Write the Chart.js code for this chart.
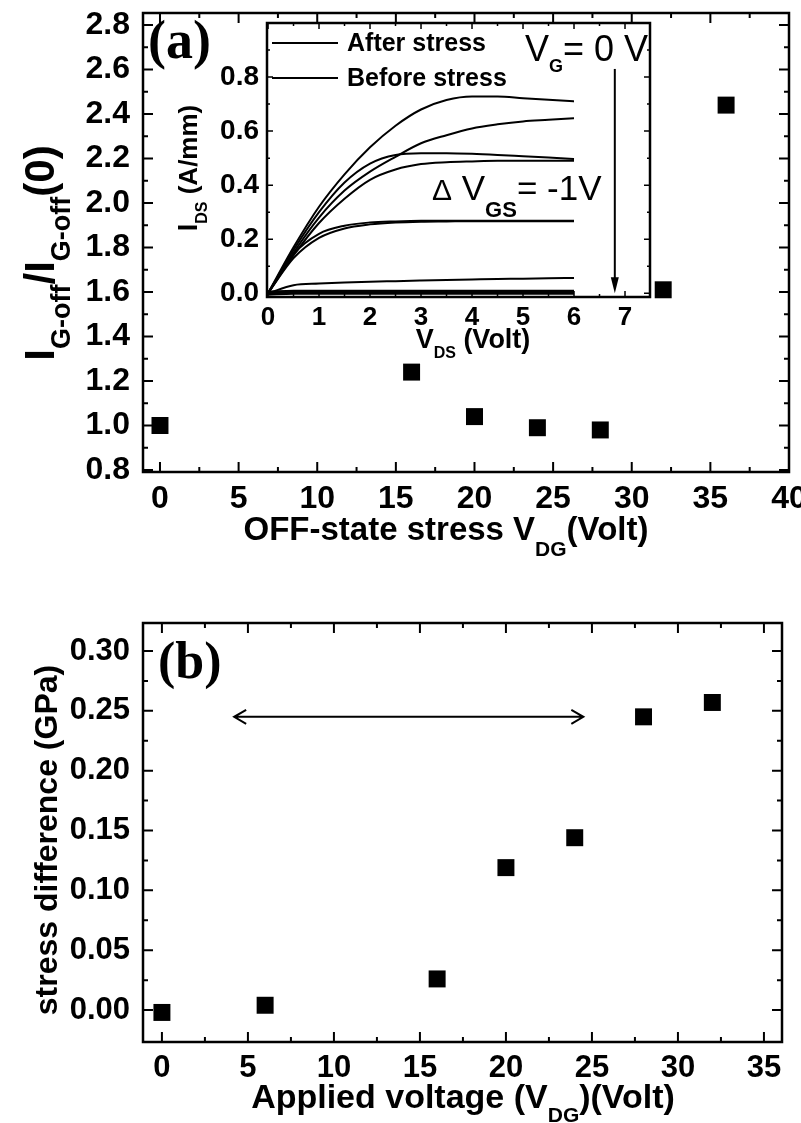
<!DOCTYPE html>
<html>
<head>
<meta charset="utf-8">
<script src="https://cdn.jsdelivr.net/npm/chart.js@4.4.0/dist/chart.umd.min.js"></script>
<style>
  html, body { margin: 0; padding: 0; background: #fff; }
  #page { position: relative; width: 801px; height: 1123px; overflow: hidden; }
  canvas { position: absolute; }
</style>
</head>
<body>
<div id="page">
  <canvas id="chartA" width="801" height="580" style="left:0;top:0"></canvas>
  <canvas id="inset" width="510" height="350" style="left:160px;top:10px"></canvas>
  <canvas id="chartB" width="801" height="533" style="left:0;top:590px"></canvas>
</div>
<script>
// (a) gate leakage ratio vs OFF-state stress
const stressVdg = [0, 16, 20, 24, 28, 32, 36];
const gateRatio = [1.0, 1.24, 1.04, 0.99, 0.98, 1.61, 2.44];
const ratioTicks = [0.8, 1.0, 1.2, 1.4, 1.6, 1.8, 2.0, 2.2, 2.4, 2.6, 2.8];
const vdgTicksA = [0, 5, 10, 15, 20, 25, 30, 35, 40];

// inset: output characteristics
const vds = [0, 0.5, 1, 1.5, 2, 2.5, 3, 3.5, 4, 4.5, 5, 5.5, 6];
const idsCurves = [
  [0, 0.17, 0.32, 0.44, 0.54, 0.62, 0.68, 0.715, 0.728, 0.728, 0.722, 0.716, 0.71],
  [0, 0.15, 0.28, 0.38, 0.45, 0.505, 0.555, 0.585, 0.61, 0.625, 0.636, 0.642, 0.648],
  [0, 0.16, 0.30, 0.41, 0.48, 0.512, 0.518, 0.518, 0.516, 0.512, 0.507, 0.502, 0.497],
  [0, 0.14, 0.26, 0.35, 0.42, 0.458, 0.478, 0.485, 0.488, 0.49, 0.49, 0.49, 0.49],
  [0, 0.145, 0.22, 0.25, 0.262, 0.266, 0.268, 0.268, 0.268, 0.268, 0.268, 0.268, 0.268],
  [0, 0.13, 0.205, 0.24, 0.255, 0.262, 0.265, 0.266, 0.267, 0.267, 0.267, 0.267, 0.267],
  [0, 0.03, 0.036, 0.04, 0.043, 0.045, 0.047, 0.049, 0.051, 0.053, 0.054, 0.056, 0.057],
  [0, 0.004, 0.004, 0.004, 0.004, 0.004, 0.004, 0.004, 0.004, 0.004, 0.004, 0.004, 0.004]
];
const idsTicks = [0, 0.2, 0.4, 0.6, 0.8];
const vdsTicks = [0, 1, 2, 3, 4, 5, 6, 7];
const insetLegend = ['After stress', 'Before stress'];

// (b) stress difference vs applied voltage
const appliedVdg = [0, 6, 16, 20, 24, 28, 32];
const stressDiff = [-0.002, 0.004, 0.026, 0.119, 0.144, 0.245, 0.257];
const gpaTicks = [0, 0.05, 0.10, 0.15, 0.20, 0.25, 0.30];
const vdgTicksB = [0, 5, 10, 15, 20, 25, 30, 35];
const arrowSpan = [4.2, 24.5];
const arrowLevel = 0.245;

const FAMILY = '"Liberation Sans", Arial, sans-serif';
Chart.defaults.color = '#000';
Chart.defaults.font.family = FAMILY;
Chart.defaults.animation = false;

const pts = (xs, ys) => xs.map((x, i) => ({ x, y: ys[i] }));

function richText(ctx, parts, x, y, rotate, align) {
  ctx.save();
  ctx.translate(x, y);
  if (rotate) ctx.rotate(-Math.PI / 2);
  ctx.textBaseline = 'alphabetic';
  ctx.textAlign = 'left';
  ctx.fillStyle = '#000';
  const font = (p) => `${p[2] || 'bold'} ${p[1]}px ${FAMILY}`;
  let total = 0;
  parts.forEach((p) => { ctx.font = font(p); total += ctx.measureText(p[0]).width; });
  let u = align === 'left' ? 0 : -total / 2;
  parts.forEach((p) => {
    ctx.font = font(p);
    ctx.fillText(p[0], u, p[3] || 0);
    u += ctx.measureText(p[0]).width;
  });
  ctx.restore();
}

// frame with inward major/minor ticks on all four sides
const frame = {
  id: 'frame',
  afterDatasetsDraw(chart, args, opts) {
    const { ctx, chartArea: a, scales: { x, y } } = chart;
    ctx.save();
    ctx.strokeStyle = '#000';
    ctx.lineWidth = opts.width;
    ctx.strokeRect(a.left, a.top, a.right - a.left, a.bottom - a.top);
    ctx.lineWidth = opts.tickWidth;
    const withMinor = (vals) => {
      const out = vals.map((v) => [v, opts.major]);
      for (let i = 0; i < vals.length - 1; i++) out.push([(vals[i] + vals[i + 1]) / 2, opts.minor]);
      return out;
    };
    ctx.beginPath();
    withMinor(opts.xTicks).forEach(([v, len]) => {
      const px = x.getPixelForValue(v);
      if (px < a.left || px > a.right) return;
      ctx.moveTo(px, a.bottom); ctx.lineTo(px, a.bottom - len);
      ctx.moveTo(px, a.top); ctx.lineTo(px, a.top + len);
    });
    withMinor(opts.yTicks).forEach(([v, len]) => {
      const py = y.getPixelForValue(v);
      if (py < a.top || py > a.bottom) return;
      ctx.moveTo(a.left, py); ctx.lineTo(a.left + len, py);
      ctx.moveTo(a.right, py); ctx.lineTo(a.right - len, py);
    });
    ctx.stroke();
    ctx.restore();
  }
};

function axis(min, max, ticks, fmt, size, pad, fix) {
  return {
    type: 'linear', min, max,
    grid: { display: false }, border: { display: false },
    afterBuildTicks: (s) => { s.ticks = ticks.map((value) => ({ value })); },
    afterFit: (s) => {
      Object.assign(s, fix);
      s.paddingLeft = s.paddingRight = s.paddingTop = s.paddingBottom = 0;
    },
    ticks: { callback: fmt, padding: pad, maxRotation: 0, autoSkip: false, font: { size, weight: 'bold' } }
  };
}

// ---------- chart (a)
const annotA = {
  id: 'annotA',
  afterDraw(chart) {
    const ctx = chart.ctx;
    ctx.save();
    ctx.fillStyle = '#000';
    ctx.font = 'bold 54px "Liberation Serif", "Times New Roman", serif';
    ctx.textBaseline = 'alphabetic';
    ctx.fillText('(a)', 148, 58);
    ctx.restore();
    richText(ctx, [['I', 42], ['G-off', 27, 'bold', 16], ['/I', 42], ['G-off', 27, 'bold', 16], ['(0)', 42]], 54, 253, true);
    richText(ctx, [['OFF-state stress V', 33], ['DG', 21, 'bold', 16], ['(Volt)', 33]], 446, 540, false);
  }
};

new Chart(document.getElementById('chartA'), {
  type: 'scatter',
  data: {
    datasets: [{
      data: pts(stressVdg, gateRatio),
      pointStyle: 'rect', pointRadius: 12, pointHoverRadius: 12,
      backgroundColor: '#000', borderWidth: 0
    }]
  },
  options: {
    responsive: false,
    layout: { padding: { top: 13, right: 9, left: 0, bottom: 0 } },
    scales: {
      x: axis(-1.08, 40, vdgTicksA, (v) => String(v), 32, 0, { height: 108 }),
      y: axis(0.791, 2.854, ratioTicks, (v) => v.toFixed(1), 32, 5, { width: 143 })
    },
    plugins: {
      legend: { display: false }, tooltip: { enabled: false },
      frame: { width: 2.5, tickWidth: 2, major: 10, minor: 5, xTicks: vdgTicksA, yTicks: ratioTicks }
    }
  },
  plugins: [frame, annotA]
});

// ---------- inset
const annotInset = {
  id: 'annotInset',
  beforeDatasetsDraw(chart) {
    const { ctx, chartArea: a } = chart;
    ctx.save();
    ctx.fillStyle = '#fff';
    ctx.fillRect(a.left, a.top, a.right - a.left, a.bottom - a.top);
    ctx.restore();
  },
  afterDraw(chart) {
    const { ctx, scales: { x, y } } = chart;
    ctx.save();
    ctx.strokeStyle = '#000';
    ctx.fillStyle = '#000';
    ctx.lineWidth = 2;
    // legend
    insetLegend.forEach((label, i) => {
      const ly = i === 0 ? 33 : 68;
      ctx.beginPath(); ctx.moveTo(112, ly); ctx.lineTo(178, ly); ctx.stroke();
      ctx.font = `bold 25px ${FAMILY}`;
      ctx.textBaseline = 'middle';
      ctx.fillText(label, 187, ly + 1);
    });
    // downward arrow
    const ax = x.getPixelForValue(6.8);
    const y0 = y.getPixelForValue(0.83), y1 = y.getPixelForValue(0.0);
    ctx.beginPath(); ctx.moveTo(ax, y0); ctx.lineTo(ax, y1 - 12); ctx.stroke();
    ctx.beginPath(); ctx.moveTo(ax - 4, y1 - 16); ctx.lineTo(ax + 4, y1 - 16); ctx.lineTo(ax, y1); ctx.closePath(); ctx.fill();
    ctx.restore();
    richText(ctx, [['V', 36, 'normal'], ['G', 18, 'bold', 11], ['= 0 V', 36, 'normal']], 365, 51, false, 'left');
    richText(ctx, [['\u0394', 30, 'normal'], [' V', 35, 'normal'], ['GS', 22, 'bold', 17], ['= -1V', 35, 'normal']], 272, 190, false, 'left');
    richText(ctx, [['V', 27], ['DS', 16, 'bold', 10], [' (Volt)', 27]], 313, 338, false);
    richText(ctx, [['I', 27], ['DS', 16, 'bold', 10], [' (A/mm)', 26]], 37, 158, true);
  }
};

new Chart(document.getElementById('inset'), {
  type: 'scatter',
  data: {
    datasets: idsCurves.map((c, i) => ({
      data: pts(vds, c),
      showLine: true, pointRadius: 0,
      borderColor: '#000', borderWidth: i === idsCurves.length - 1 ? 5 : 2,
      cubicInterpolationMode: 'monotone'
    }))
  },
  options: {
    responsive: false,
    layout: { padding: { top: 13, right: 20, left: 0, bottom: 0 } },
    scales: {
      x: axis(-0.02, 7.49, vdsTicks, (v) => String(v), 26, -3, { height: 63 }),
      y: axis(-0.0137, 1.0, idsTicks, (v) => v.toFixed(1), 28, 0, { width: 107 })
    },
    plugins: {
      legend: { display: false }, tooltip: { enabled: false },
      frame: { width: 2.5, tickWidth: 1.5, major: 6, minor: 3, xTicks: vdsTicks, yTicks: [0, 0.2, 0.4, 0.6, 0.8, 1.0] }
    }
  },
  plugins: [annotInset, frame]
});

// ---------- chart (b)
const annotB = {
  id: 'annotB',
  afterDraw(chart) {
    const { ctx, scales: { x, y } } = chart;
    ctx.save();
    ctx.fillStyle = '#000';
    ctx.strokeStyle = '#000';
    ctx.font = 'bold 52px "Liberation Serif", "Times New Roman", serif';
    ctx.textBaseline = 'alphabetic';
    ctx.fillText('(b)', 158, 88);
    // double-headed arrow
    const xa = x.getPixelForValue(arrowSpan[0]);
    const xb = x.getPixelForValue(arrowSpan[1]);
    const ya = y.getPixelForValue(arrowLevel);
    ctx.lineWidth = 2;
    ctx.beginPath();
    ctx.moveTo(xa, ya); ctx.lineTo(xb, ya);
    ctx.moveTo(xa + 12, ya - 7); ctx.lineTo(xa, ya); ctx.lineTo(xa + 12, ya + 7);
    ctx.moveTo(xb - 12, ya - 7); ctx.lineTo(xb, ya); ctx.lineTo(xb - 12, ya + 7);
    ctx.stroke();
    ctx.restore();
    richText(ctx, [['stress difference (GPa)', 32]], 57, 250, true);
    richText(ctx, [['Applied voltage (V', 34], ['DG', 21, 'bold', 14], [')(Volt)', 34]], 463, 518, false);
  }
};

new Chart(document.getElementById('chartB'), {
  type: 'scatter',
  data: {
    datasets: [{
      data: pts(appliedVdg, stressDiff),
      pointStyle: 'rect', pointRadius: 12, pointHoverRadius: 12,
      backgroundColor: '#000', borderWidth: 0
    }]
  },
  options: {
    responsive: false,
    layout: { padding: { top: 33, right: 19, left: 0, bottom: 0 } },
    scales: {
      x: axis(-1.1, 36.05, vdgTicksB, (v) => String(v), 31, 0, { height: 81 }),
      y: axis(-0.0267, 0.3234, gpaTicks, (v) => v.toFixed(2), 31, 5, { width: 143 })
    },
    plugins: {
      legend: { display: false }, tooltip: { enabled: false },
      frame: { width: 2.5, tickWidth: 2, major: 10, minor: 5, xTicks: vdgTicksB, yTicks: gpaTicks }
    }
  },
  plugins: [frame, annotB]
});
</script>
</body>
</html>
